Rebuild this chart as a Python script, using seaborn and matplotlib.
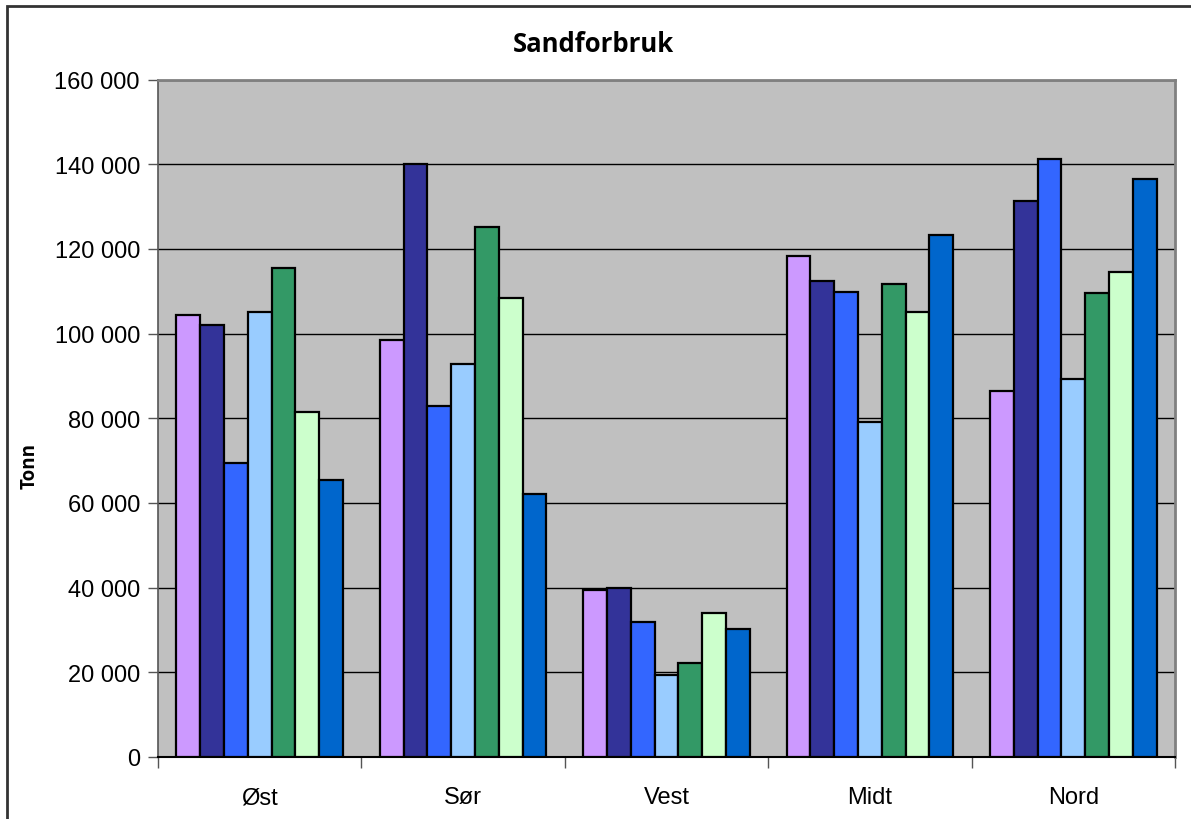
import matplotlib
matplotlib.use("Agg")
import matplotlib.pyplot as plt
import seaborn as sns
import pandas as pd
import numpy as np
from matplotlib.patches import Rectangle
from matplotlib.ticker import FuncFormatter, FixedLocator

regions = ["Øst", "Sør", "Vest", "Midt", "Nord"]
series_names = ["Serie 1", "Serie 2", "Serie 3", "Serie 4", "Serie 5", "Serie 6", "Serie 7"]
serie1 = [104500, 98400, 39500, 118300, 86500]
serie2 = [102100, 140000, 39900, 112300, 131200]
serie3 = [69400, 82800, 31800, 109900, 141200]
serie4 = [105000, 92900, 19400, 79000, 89300]
serie5 = [115400, 125100, 22100, 111800, 109500]
serie6 = [81400, 108500, 34000, 105000, 114500]
serie7 = [65300, 62100, 30300, 123300, 136600]
colors = ["#CC99FF", "#333399", "#3366FF", "#99CCFF", "#339966", "#CCFFCC", "#0066CC"]

all_series = [serie1, serie2, serie3, serie4, serie5, serie6, serie7]
rows = []
for name, vals in zip(series_names, all_series):
    for r, v in zip(regions, vals):
        rows.append({"Region": r, "Serie": name, "Tonn": v})
df = pd.DataFrame(rows)

sns.set_style("white")
plt.rcParams["font.family"] = ["Liberation Sans", "DejaVu Sans"]
plt.rcParams["text.color"] = "black"
plt.rcParams["xtick.labelcolor"] = "black"
plt.rcParams["ytick.labelcolor"] = "black"

fig = plt.figure(figsize=(11.91, 8.2), dpi=100)
W, H = 1191, 820
ax = fig.add_axes([158 / W, 1 - 758 / H, (1175 - 158) / W, (758 - 80.5) / H])
ax.set_facecolor("#C0C0C0")

sns.barplot(data=df, x="Region", y="Tonn", hue="Serie", order=regions,
            hue_order=series_names, palette=colors, width=0.82, gap=0,
            edgecolor="black", linewidth=1.6, saturation=1, legend=False, ax=ax,
            zorder=3)

ax.set_ylim(0, 160000)
ax.set_xlim(-0.5, len(regions) - 0.5)
ax.yaxis.set_major_locator(FixedLocator(np.arange(0, 160001, 20000)))
ax.yaxis.set_major_formatter(FuncFormatter(lambda v, p: f"{int(v):,}".replace(",", " ")))
ax.grid(axis="y", color="black", linewidth=1.0, zorder=1)
ax.set_axisbelow(True)

ax.tick_params(axis="y", which="major", length=7, width=1, color="#555555",
               labelsize=17, pad=6, direction="out", left=True, labelcolor="black")
ax.tick_params(axis="x", which="major", length=0, labelsize=17, pad=21, labelcolor="black")
ax.set_xticks(np.arange(-0.5, len(regions) + 0.5, 1.0), minor=True)
ax.tick_params(axis="x", which="minor", length=8, width=1, color="#555555",
               direction="out", bottom=True)

for s in ["top", "right"]:
    ax.spines[s].set_color("#808080")
    ax.spines[s].set_linewidth(2)
ax.spines["left"].set_color("#555555")
ax.spines["bottom"].set_color("black")
ax.spines["left"].set_linewidth(1.2)
ax.spines["bottom"].set_linewidth(1.5)

ax.set_xlabel("")
ax.set_ylabel("")

fig.text(593 / W, 1 - 45 / H, "Sandforbruk", ha="center", va="center", color="black",
         fontsize=18.5, fontweight="bold", family=["Open Sans", "DejaVu Sans"])
fig.text(30 / W, 1 - 466 / H, "Tonn", ha="center", va="center", rotation=90, color="black",
         fontsize=13.5, fontweight="bold", family=["Open Sans", "DejaVu Sans"])

fig.patches.append(Rectangle((7 / W, -0.5), 2.0, 1.5 - 7 / H, transform=fig.transFigure,
                             fill=False, edgecolor="#333333", linewidth=2, zorder=10))

fig.savefig("out.png", dpi=100)
